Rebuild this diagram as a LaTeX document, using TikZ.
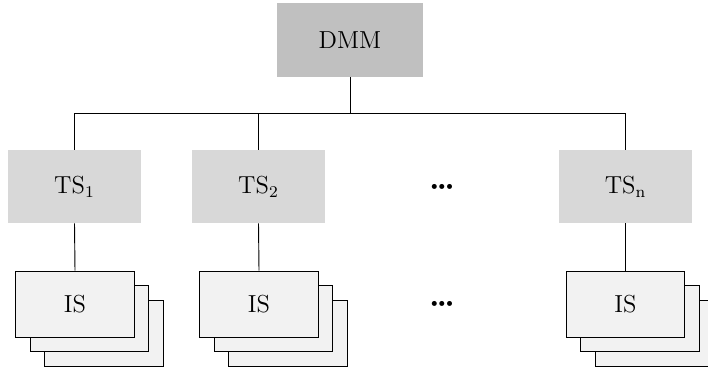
\documentclass[tikz,border=0pt]{standalone}
\usepackage{fontspec}

\tikzset{every picture/.style={line width=0.45pt}}
\tikzset{
  mgrbox/.style={fill={rgb,255:red,192;green,192;blue,192}, minimum width=71.2pt, minimum height=35.6pt, inner sep=0pt, font=\large},
  tsbox/.style={fill={rgb,255:red,216;green,216;blue,216}, minimum width=64.9pt, minimum height=35.6pt, inner sep=0pt, font=\large},
  isbox/.style={draw, fill={rgb,255:red,242;green,242;blue,242}, minimum width=57.6pt, minimum height=32.2pt, inner sep=0pt, font=\large},
  dotsnode/.style={inner sep=0pt, font=\tiny}
}

\begin{document}
\begin{tikzpicture}[x=0.4875pt,y=0.4875pt,yscale=-1,xscale=1]

		\useasboundingbox (0,0) rectangle (708,371);

		% manager and servers
		\node [mgrbox] (dmm) at (350,40) {DMM};
		\node [tsbox] (ts1) at (74.5,186.5) {TS\textsubscript{1}};
		\node [tsbox] (ts2) at (258.5,186.5) {TS\textsubscript{2}};
		\node [tsbox] (tsn) at (625.5,186.5) {TS\textsubscript{n}};
		\node [dotsnode] (tsdots) at (442,187) {$\bullet\mkern-4mu\bullet\mkern-4mu\bullet$};

		% stacked IS boxes
		\node [isbox] (is1c) at (104,333) {};
		\node [isbox] (is1b) at (89.5,318.5) {};
		\node [isbox] (is1) at (75,304) {IS};
		\node [isbox] (is2c) at (288,333) {};
		\node [isbox] (is2b) at (273.5,318.5) {};
		\node [isbox] (is2) at (259,304) {IS};
		\node [isbox] (isnc) at (654.5,333) {};
		\node [isbox] (isnb) at (640,318.5) {};
		\node [isbox] (isn) at (625.5,304) {IS};
		\node [dotsnode] (isdots) at (442,304) {$\bullet\mkern-4mu\bullet\mkern-4mu\bullet$};

		% bus
		\coordinate (bus1) at (74.5,113);
		\coordinate (bus2) at (258.5,113);
		\coordinate (busn) at (625.5,113);

		\draw (dmm.south) -- (dmm.south |- bus1);
		\draw (bus1) -- (busn);
		\draw (bus1) -- (ts1.north);
		\draw (bus2) -- (ts2.north);
		\draw (busn) -- (tsn.north);
		\draw (ts1.south) -- (is1.north);
		\draw (ts2.south) -- (is2.north);
		\draw (tsn.south) -- (isn.north);

\end{tikzpicture}
\end{document}
